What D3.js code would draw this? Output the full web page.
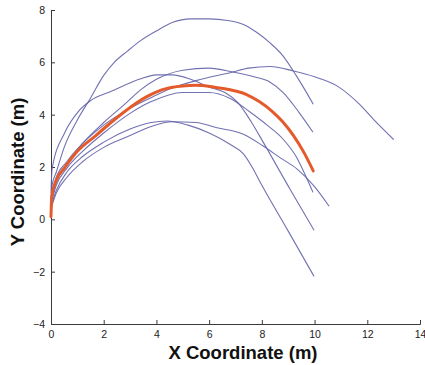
<!DOCTYPE html>
<html>
<head>
<meta charset="utf-8">
<script src="https://cdn.jsdelivr.net/npm/d3@7"></script>
<style>
  html, body { margin: 0; padding: 0; background: #fff; }
  svg { display: block; }
</style>
</head>
<body>
<svg id="chart" width="425" height="365"></svg>
<script>
// Trajectories, [x (m), y (m)] samples along each path
const trialA = [[0,0.6],[0.04,1.3],[0.2,1.8],[0.5,2.75],[1.0,3.8],[1.48,4.6],[2.0,5.5],[2.4,6.0],[2.9,6.43],[3.4,6.83],[4.0,7.2],[4.6,7.52],[5.3,7.66],[6.0,7.66],[6.7,7.6],[7.3,7.45],[7.8,7.15],[8.3,6.75],[8.8,6.25],[9.3,5.5],[9.95,4.4]];
const trialB = [[0,0.7],[0.2,1.4],[0.6,2.1],[1.2,2.9],[2.0,3.7],[2.8,4.4],[3.4,4.95],[4.0,5.35],[5.0,5.7],[6.0,5.78],[6.9,5.63],[7.7,5.45],[8.3,5.25],[8.8,4.85],[9.4,4.1],[9.94,3.33]];
const trialC = [[0,0.8],[0.2,1.6],[0.6,2.2],[1.2,2.9],[2.0,3.6],[3.0,4.25],[4.0,4.75],[4.5,4.98],[5.5,5.3],[6.9,5.63],[7.5,5.78],[8.3,5.84],[9.2,5.67],[10.0,5.45],[10.85,5.1],[11.7,4.4],[12.3,3.75],[13.0,3.05]];
const trialD = [[0,0.6],[0.2,1.3],[0.6,1.95],[1.2,2.6],[2.0,3.3],[3.0,4.05],[3.76,4.48],[5.0,4.85],[6.0,4.85],[6.8,4.62],[7.55,4.1],[8.2,3.6],[8.8,3.07],[9.3,2.4],[9.72,1.53],[9.94,1.03]];
const trialE = [[0,0.4],[0.2,1.0],[0.6,1.6],[1.2,2.2],[2.0,2.75],[3.0,3.2],[3.8,3.55],[4.6,3.73],[5.5,3.7],[6.3,3.5],[7.3,3.25],[8.05,2.8],[8.7,2.35],[9.34,1.92],[10.0,1.25],[10.55,0.5]];
const trialF = [[0,1.0],[0.04,1.92],[0.53,3.33],[1.02,4.1],[1.48,4.52],[2.31,4.9],[3.38,5.36],[4.0,5.52],[4.6,5.52],[5.3,5.35],[6.0,5.05],[6.6,4.85],[7.1,4.45],[7.6,3.72],[8.05,2.95],[9.07,1.15],[9.98,-0.42]];
const trialG = [[0,0.5],[0.2,1.1],[0.6,1.8],[1.2,2.4],[2.0,2.95],[3.0,3.45],[3.8,3.7],[4.4,3.76],[5.2,3.6],[6.0,3.3],[6.79,2.87],[7.3,2.5],[7.6,2.05],[8.0,1.3],[9.0,-0.45],[9.98,-2.18]];
const trials = [trialA, trialB, trialC, trialD, trialE, trialF, trialG];

// Mean trajectory
const meanPath = [[0,0.1],[0.03,0.9],[0.2,1.5],[0.5,1.95],[1.0,2.6],[1.7,3.2],[2.3,3.72],[2.9,4.2],[3.6,4.67],[4.2,4.95],[5.0,5.1],[5.5,5.12],[6.2,5.05],[6.8,4.95],[7.4,4.78],[7.9,4.5],[8.4,4.12],[8.8,3.72],[9.2,3.2],[9.6,2.55],[9.95,1.85]];

const xTicks = [0, 2, 4, 6, 8, 10, 12, 14];
const yTicks = [-4, -2, 0, 2, 4, 6, 8];

const svg = d3.select("#chart");
const x = d3.scaleLinear().domain([0, 14]).range([51, 420]);
const y = d3.scaleLinear().domain([-4, 8]).range([324, 10]);

const fmt = d => (d < 0 ? "\u2212" + Math.abs(d) : String(d));

// Axes (left + bottom only, inward ticks)
const xAxis = svg.append("g").attr("transform", `translate(0,${y(-4)})`)
  .call(d3.axisBottom(x).tickValues(xTicks).tickSizeInner(-4).tickSizeOuter(-4).tickPadding(7).tickFormat(fmt));
const yAxis = svg.append("g").attr("transform", `translate(${x(0)},0)`)
  .call(d3.axisLeft(y).tickValues(yTicks).tickSizeInner(-4).tickSizeOuter(-4).tickPadding(6).tickFormat(fmt));

[xAxis, yAxis].forEach(g => {
  g.selectAll("path, line").attr("stroke", "#3a3a3a").attr("stroke-width", 1);
  g.selectAll("text").attr("fill", "#222").style("font-family", "Liberation Sans, Arial, sans-serif").style("font-size", "10.5px");
});

const line = d3.line().x(d => x(d[0])).y(d => y(d[1])).curve(d3.curveMonotoneX);

svg.append("g").selectAll("path").data(trials).join("path")
  .attr("d", line)
  .attr("fill", "none")
  .attr("stroke", "#6262aa")
  .attr("stroke-opacity", 0.9)
  .attr("stroke-width", 1.1);

svg.append("path").datum(meanPath)
  .attr("d", line)
  .attr("fill", "none")
  .attr("stroke", "#e45a2a")
  .attr("stroke-width", 3)
  .attr("stroke-linecap", "round");

// Axis titles
svg.append("text")
  .attr("x", 243).attr("y", 359)
  .attr("text-anchor", "middle")
  .style("font-family", "Liberation Sans, Arial, sans-serif")
  .style("font-weight", "bold").style("font-size", "18.5px").attr("fill", "#111")
  .text("X Coordinate (m)");

svg.append("text")
  .attr("transform", "translate(24,172) rotate(-90)")
  .attr("text-anchor", "middle")
  .style("font-family", "Liberation Sans, Arial, sans-serif")
  .style("font-weight", "bold").style("font-size", "18.5px").attr("fill", "#111")
  .text("Y Coordinate (m)");
</script>
</body>
</html>
